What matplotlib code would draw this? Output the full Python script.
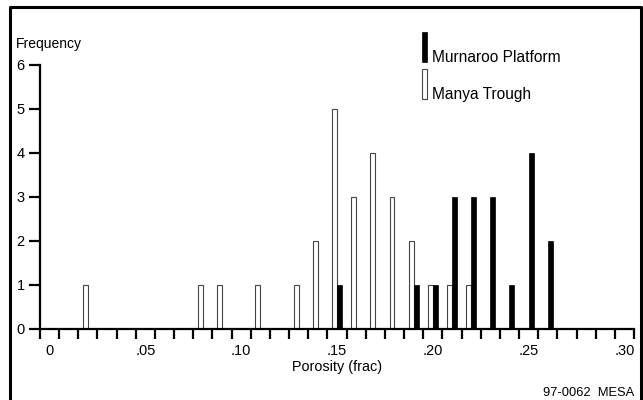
import matplotlib
matplotlib.use('Agg')
from matplotlib import pyplot as plt
from matplotlib.patches import Rectangle
from matplotlib.lines import Line2D
import numpy as np

plt.rcParams['font.family'] = ['Liberation Sans', 'DejaVu Sans']

# porosity histogram counts, bins of 0.01
manya_poro = [0.02, 0.08, 0.09, 0.11, 0.13, 0.14, 0.15, 0.16, 0.17, 0.18, 0.19, 0.20, 0.21, 0.22]
manya_freq = [1, 1, 1, 1, 1, 2, 5, 3, 4, 3, 2, 1, 1, 1]
murn_poro = [0.15, 0.19, 0.20, 0.21, 0.22, 0.23, 0.24, 0.25, 0.26]
murn_freq = [1, 1, 1, 3, 3, 3, 1, 4, 2]

xlabels = ['0', '.05', '.10', '.15', '.20', '.25', '.30']
xlabel_pos = [0.0, 0.05, 0.10, 0.15, 0.20, 0.25, 0.30]

W, H = 643, 400
fig = plt.figure(figsize=(6.43, 4.0), dpi=100)
ax = fig.add_axes([40 / W, 1 - 329 / H, 594 / W, 264 / H])

bw = 0.0026
ax.bar(np.array(manya_poro) - bw / 2, manya_freq, width=bw, color='white',
       edgecolor='#444444', linewidth=0.8, zorder=2)
ax.bar(np.array(murn_poro) + bw / 2, murn_freq, width=bw, color='black',
       edgecolor='black', linewidth=0.5, zorder=3)

ax.set_xlim(-0.005, 0.305)
ax.set_ylim(0, 6)
for s in ['top', 'right']:
    ax.spines[s].set_visible(False)
for s in ['left', 'bottom']:
    ax.spines[s].set_linewidth(1.6)

# bin edges as major ticks, labels sit between them
ax.set_xticks(np.arange(-0.005, 0.3051, 0.01))
ax.set_xticklabels([])
ax.tick_params(axis='x', which='major', direction='out', length=7, width=1.6)
ax.set_xticks(xlabel_pos, minor=True)
ax.set_xticklabels(xlabels, minor=True, fontsize=10.5)
ax.tick_params(axis='x', which='minor', length=0, pad=11)

ax.set_yticks(range(7))
ax.tick_params(axis='y', direction='out', length=8, width=1.6, pad=3, labelsize=10.5)

fig.text(292 / W, 1 - 371 / H, 'Porosity (frac)', fontsize=10.4, va='baseline', ha='left')
fig.text(16 / W, 1 - 48 / H, 'Frequency', fontsize=10, va='baseline', ha='left')
fig.text(634 / W, 1 - 396 / H, '97-0062  MESA', fontsize=9.3, va='baseline', ha='right')

# legend
fig.patches.append(Rectangle((421.7 / W, 1 - 61.7 / H), 5.6 / W, 30 / H,
                             transform=fig.transFigure, facecolor='black', edgecolor='black', lw=0.5))
fig.patches.append(Rectangle((422 / W, 1 - 99 / H), 4.5 / W, 30 / H,
                             transform=fig.transFigure, facecolor='white', edgecolor='#444444', lw=0.8))
fig.text(431.5 / W, 1 - 62 / H, 'Murnaroo Platform', fontsize=11.2, va='baseline', ha='left')
fig.text(431.5 / W, 1 - 99 / H, 'Manya Trough', fontsize=11.2, va='baseline', ha='left')

# border
fx = [10 / W, 10 / W, 641 / W, 641 / W]
fy = [0, 1 - 6.5 / H, 1 - 6.5 / H, 0]
fig.add_artist(Line2D(fx, fy, transform=fig.transFigure, color='black', lw=2.2))

plt.savefig('out.png', dpi=100)
